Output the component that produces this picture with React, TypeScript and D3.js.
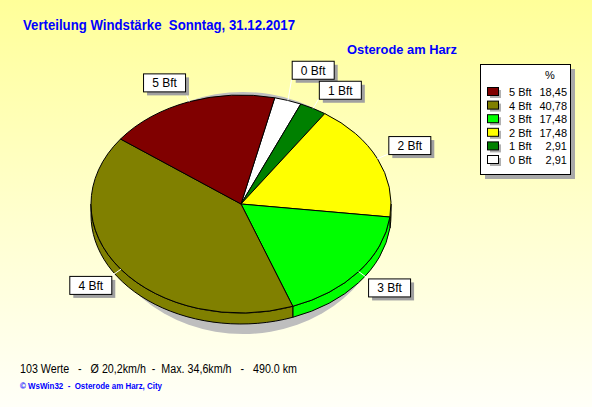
import React from "react";
import * as d3 from "d3";

const categories = ["5 Bft", "4 Bft", "3 Bft", "2 Bft", "1 Bft", "0 Bft"];
const percents = [18.45, 40.78, 17.48, 17.48, 2.91, 2.91];
const colors = ["#800000", "#808000", "#00FF00", "#FFFF00", "#008000", "#FFFFFF"];
const titleText = "Verteilung Windstärke  Sonntag, 31.12.2017";
const locationText = "Osterode am Harz";
const statsText = "103 Werte   -   Ø 20,2km/h  -  Max. 34,6km/h   -   490.0 km";
const creditText = "© WsWin32  -  Osterode am Harz, City";

const W = 592;
const H = 407;
const FONT = "'Liberation Sans', Arial, sans-serif";

export default function App() {
  const cx = 241, cy = 204, rx = 150, ry = 109, depth = 11;
  const start = (13 * Math.PI) / 180;
  const order = d3.range(categories.length).reverse();
  const pieData = d3
    .pie<number>()
    .sort(null)
    .value((i) => percents[i])
    .startAngle(start)
    .endAngle(start + 2 * Math.PI)(order);

  const pt = (a: number, dy = 0, sx = rx, sy = ry): [number, number] => [
    cx + sx * Math.sin(a),
    cy - sy * Math.cos(a) + dy,
  ];

  const facePath = (a0: number, a1: number) => {
    const p0 = pt(a0), p1 = pt(a1);
    const large = a1 - a0 > Math.PI ? 1 : 0;
    return `M${cx},${cy}L${p0[0]},${p0[1]}A${rx},${ry} 0 ${large} 1 ${p1[0]},${p1[1]}Z`;
  };

  const sidePaths: { d: string; color: string }[] = [];
  pieData.forEach((s) => {
    for (const off of [0, 2 * Math.PI, -2 * Math.PI]) {
      const a0 = Math.max(s.startAngle + off, Math.PI / 2);
      const a1 = Math.min(s.endAngle + off, (3 * Math.PI) / 2);
      if (a1 > a0 + 1e-6) {
        const p0 = pt(a0), p1 = pt(a1), q0 = pt(a0, depth), q1 = pt(a1, depth);
        sidePaths.push({
          d: `M${p0[0]},${p0[1]}A${rx},${ry} 0 0 1 ${p1[0]},${p1[1]}L${q1[0]},${q1[1]}A${rx},${ry} 0 0 0 ${q0[0]},${q0[1]}Z`,
          color: colors[s.data],
        });
      }
    }
  });

  const bw = 42, bh = 18;
  type Lab = { i: number; x: number; y: number; ex: number; ey: number; ax: number; ay: number };
  const labs: Lab[] = pieData.map((s) => {
    const m = (s.startAngle + s.endAngle) / 2;
    const [ex, ey] = pt(m);
    const [ax, ay] = pt(m, 0, 162, 120);
    const x = Math.sin(m) >= 0 ? ax : ax - bw;
    const y = Math.cos(m) >= 0 ? ay - bh : ay;
    return { i: s.data, x, y, ex, ey, ax, ay };
  });
  for (let k = 0; k < labs.length; k++) {
    for (let j = 0; j < labs.length; j++) {
      if (j === k) continue;
      const a = labs[k], b = labs[j];
      const ov = a.x < b.x + bw && a.x + bw > b.x && a.y < b.y + bh && a.y + bh > b.y;
      if (ov && a.y <= b.y && a.ay < cy) {
        const ny = b.y - bh - 2;
        a.ay -= a.y - ny;
        a.y = ny;
      }
    }
  }

  const legX = 480, legY = 64, legW = 90, legH = 110;
  const rowY = (k: number) => 92 + k * 13.6;

  return (
    <svg width={W} height={H} style={{ position: "absolute", left: 0, top: 0, display: "block" }}>
      <defs>
        <linearGradient id="bg" x1="0" y1="0" x2="0" y2="1">
          <stop offset="0" stopColor="#FFFF99" />
          <stop offset="0.55" stopColor="#FFFFD0" />
          <stop offset="1" stopColor="#FFFFF8" />
        </linearGradient>
      </defs>
      <rect x={0} y={0} width={W} height={H} fill="url(#bg)" />

      <text x={23} y={30} fill="#0000FF" fontFamily={FONT} fontWeight="bold" fontSize={14}
        textLength={272} lengthAdjust="spacingAndGlyphs" style={{ whiteSpace: "pre" }}>
        {titleText}
      </text>
      <text x={347} y={54} fill="#0000FF" fontFamily={FONT} fontWeight="bold" fontSize={13.5}
        textLength={110} lengthAdjust="spacingAndGlyphs">
        {locationText}
      </text>

      <ellipse cx={243} cy={213} rx={142} ry={121} fill="#BEBEBE" />

      {sidePaths.map((p, k) => (
        <path key={"s" + k} d={p.d} fill={p.color} stroke="#000" strokeWidth={1} />
      ))}
      {pieData.map((s) => (
        <path key={"f" + s.data} d={facePath(s.startAngle, s.endAngle)} fill={colors[s.data]}
          stroke="#000" strokeWidth={1} strokeLinejoin="round" />
      ))}

      {labs.map((l) => (
        <line key={"l" + l.i} x1={l.ex} y1={l.ey} x2={l.ax} y2={l.ay} stroke="#FFFFFF" strokeWidth={1} />
      ))}
      {labs.map((l) => (
        <g key={"b" + l.i}>
          <rect x={l.x + 4} y={l.y + 4} width={bw} height={bh} fill="#A0A0A0" />
          <rect x={l.x + 0.5} y={l.y + 0.5} width={bw} height={bh} fill="#FFFFFF" stroke="#000" strokeWidth={1} />
          <text x={l.x + bw / 2 + 0.5} y={l.y + 14} textAnchor="middle" fontFamily={FONT} fontSize={12} fill="#000">
            {categories[l.i]}
          </text>
        </g>
      ))}

      <rect x={legX + 5} y={legY + 5} width={legW} height={legH} fill="#A8A8A8" />
      <rect x={legX + 0.5} y={legY + 0.5} width={legW} height={legH} fill="#FFFFFF" stroke="#000" strokeWidth={1} />
      <text x={550} y={79} textAnchor="middle" fontFamily={FONT} fontSize={11} fill="#000">%</text>
      {categories.map((c, k) => (
        <g key={"lg" + k}>
          <rect x={490} y={rowY(k) - 2} width={11} height={8} fill="#B0B0B0" />
          <rect x={487.5} y={rowY(k) - 4.5} width={11} height={8} fill={colors[k]} stroke="#000" strokeWidth={1} />
          <text x={509} y={rowY(k) + 4} fontFamily={FONT} fontSize={11} fill="#000">{c}</text>
          <text x={567} y={rowY(k) + 4} textAnchor="end" fontFamily={FONT} fontSize={11} fill="#000">
            {percents[k].toFixed(2).replace(".", ",")}
          </text>
        </g>
      ))}

      <text x={20} y={373} fontFamily={FONT} fontSize={12} fill="#000" textLength={277}
        lengthAdjust="spacingAndGlyphs" style={{ whiteSpace: "pre" }}>
        {statsText}
      </text>
      <text x={20} y={389} fontFamily={FONT} fontSize={9} fontWeight="bold" fill="#0000FF" textLength={142}
        lengthAdjust="spacingAndGlyphs" style={{ whiteSpace: "pre" }}>
        {creditText}
      </text>
    </svg>
  );
}
